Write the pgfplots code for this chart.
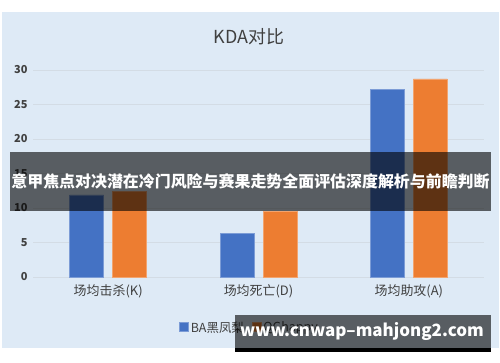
\documentclass[border=0pt]{standalone}
\usepackage{pgfplots}
\pgfplotsset{compat=1.18}
\usepackage{fontspec}
\setmainfont{Noto Sans CJK SC}
\definecolor{panel}{HTML}{DEEAF6}
\definecolor{gridc}{HTML}{D3DCE5}
\definecolor{cblue}{HTML}{4472C4}
\definecolor{corange}{HTML}{ED7D31}
\definecolor{tgray}{HTML}{404040}
\begin{document}
\begin{tikzpicture}[x=1bp,y=1bp]
\fill[white] (0,0) rectangle (500,362);
\fill[panel] (2,14) rectangle (499,350);
\node[font=\fontsize{18}{20}\selectfont, text=tgray] at (249,325) {KDA对比};
\begin{axis}[at={(33bp,85bp)}, anchor=south west, width=451bp, height=207bp, scale only axis,
  xmin=-0.5, xmax=2.5, ymin=0, ymax=30,
  ybar=9bp, bar width=34bp,
  axis line style={draw=none}, major tick length=0pt,
  ymajorgrids, grid style={gridc, line width=0.9pt},
  xtick={0,1,2}, xticklabels={场均击杀(K),场均死亡(D),场均助攻(A)},
  ytick={0,5,...,30},
  /pgf/number format/assume math mode=true,
  yticklabel style={font=\fontsize{11}{12}\selectfont\bfseries, text=tgray, xshift=-2bp},
  xticklabel style={font=\fontsize{13}{14}\selectfont, text=tgray, yshift=-4bp},
  legend style={at={(0.48,-0.245)}, anchor=center, draw=none, fill=none, legend columns=2,
    font=\fontsize{12.5}{14}\selectfont, text=tgray, /tikz/every even column/.append style={column sep=6bp}},
  legend image code/.code={\fill[#1] (0bp,-4bp) rectangle (9bp,5bp);},
]
\addplot[fill=cblue, draw=cblue!70!white, line width=0.6pt] coordinates {(0,11.9) (1,6.3) (2,27.2)};
\addplot[fill=corange, draw=corange!70!white, line width=0.6pt] coordinates {(0,12.4) (1,9.5) (2,28.7)};
\legend{BA黑凤梨,QGhappy}
\end{axis}
\fill[black, opacity=0.6] (10,151) rectangle (491,210);
\node[font=\fontsize{16}{18}\selectfont\bfseries, text=white] at (250.5,181) {意甲焦点对决潜在冷门风险与赛果走势全面评估深度解析与前瞻判断};
\fill[black, opacity=0.6] (235,14) rectangle (491,47);
\fill[black] (235,10) rectangle (491,14);
\node[font=\fontsize{17}{19}\selectfont\bfseries, text=white] at (362,31) {www.cnwap--mahjong2.com};
\end{tikzpicture}
\end{document}
